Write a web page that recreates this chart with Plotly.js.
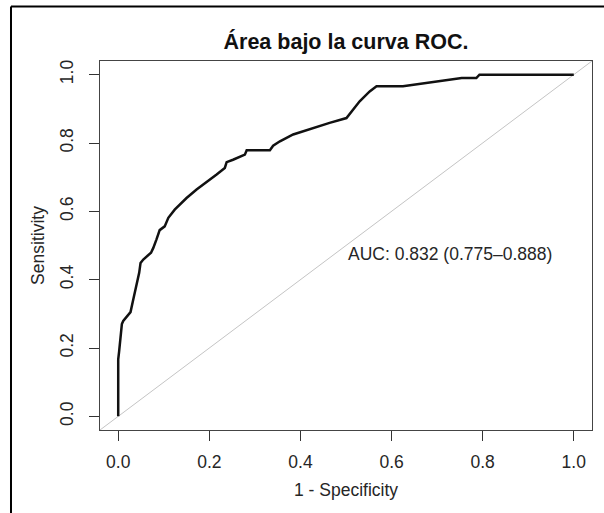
<!DOCTYPE html>
<html>
<head>
<meta charset="utf-8">
<script src="https://cdn.plot.ly/plotly-3.0.1.min.js"></script>
<style>
html,body{margin:0;padding:0;background:#fff;}
#chart{width:604px;height:513px;}
</style>
</head>
<body>
<div id="chart"></div>
<script>
// ROC curve: 1 - specificity (FPR) and sensitivity (TPR)
var fpr = [0, 0, 0.002, 0.004, 0.008, 0.011, 0.024, 0.027, 0.033, 0.040, 0.046, 0.049, 0.055, 0.072, 0.077, 0.084, 0.091, 0.102, 0.110, 0.124, 0.150, 0.172, 0.197, 0.216, 0.234, 0.238, 0.252, 0.278, 0.282, 0.333, 0.340, 0.355, 0.384, 0.428, 0.464, 0.501, 0.530, 0.552, 0.567, 0.625, 0.684, 0.737, 0.754, 0.786, 0.793, 1.0];
var tpr = [0, 0.167, 0.19, 0.215, 0.27, 0.279, 0.303, 0.305, 0.342, 0.381, 0.420, 0.449, 0.459, 0.479, 0.493, 0.518, 0.545, 0.556, 0.581, 0.605, 0.639, 0.664, 0.688, 0.708, 0.727, 0.744, 0.751, 0.766, 0.779, 0.779, 0.792, 0.805, 0.825, 0.844, 0.859, 0.873, 0.922, 0.951, 0.966, 0.966, 0.977, 0.985, 0.990, 0.990, 1.0, 1.0];
var refX = [-0.1, 1.1];
var refY = [-0.1, 1.1];
var tickVals = [0, 0.2, 0.4, 0.6, 0.8, 1.0];
var tickText = ["0.0", "0.2", "0.4", "0.6", "0.8", "1.0"];
var titleText = "Área bajo la curva ROC.";
var xTitle = "1 - Specificity";
var yTitle = "Sensitivity";
var aucText = "AUC: 0.832 (0.775–0.888)";
var aucPos = [0.5, 0.474];

var FONT = "Liberation Sans, Arial, Helvetica, sans-serif";

var traces = [
  {x: refX, y: refY, mode: "lines", line: {color: "#c4c4c4", width: 1}, hoverinfo: "skip", showlegend: false},
  {x: fpr, y: tpr, mode: "lines", line: {color: "#111111", width: 2.5}, showlegend: false}
];

var axisCommon = {
  range: [-0.04, 1.04],
  tickvals: tickVals,
  ticktext: tickText,
  ticks: "outside",
  ticklen: 10,
  tickwidth: 1,
  tickcolor: "#333",
  showgrid: false,
  zeroline: false,
  showline: true,
  mirror: true,
  linecolor: "#444",
  linewidth: 1,
  tickfont: {family: FONT, size: 17.5, color: "#262626"},
  fixedrange: true
};

var layout = {
  width: 604,
  height: 513,
  margin: {l: 100, r: 12, t: 61, b: 83, pad: 0},
  paper_bgcolor: "#fff",
  plot_bgcolor: "#fff",
  showlegend: false,
  title: {
    text: "<b>" + titleText + "</b>",
    font: {family: FONT, size: 21.5, color: "#111"},
    x: 0.5, xref: "paper", xanchor: "center",
    y: 1 - 41 / 513, yref: "container", yanchor: "middle"
  },
  xaxis: Object.assign({}, axisCommon, {
    ticklabelstandoff: 6,
    title: {text: xTitle, font: {family: FONT, size: 17.5, color: "#262626"}, standoff: 12}
  }),
  yaxis: Object.assign({}, axisCommon, {
    tickangle: -90,
    ticklabelstandoff: 9,
    title: {text: yTitle, font: {family: FONT, size: 17.5, color: "#262626"}, standoff: 7}
  }),
  annotations: [
    {x: aucPos[0], y: aucPos[1], xref: "x", yref: "y", text: aucText, showarrow: false,
     xanchor: "left", yanchor: "middle", font: {family: FONT, size: 17.5, color: "#262626"}}
  ],
  shapes: [
    {type: "line", xref: "paper", yref: "paper", x0: -0.1809, x1: -0.1809, y0: -0.3, y1: (430 - 6.5) / 369,
     line: {color: "#000", width: 2}},
    {type: "line", xref: "paper", yref: "paper", x0: -0.1809, x1: 1.1, y0: (430 - 6.5) / 369, y1: (430 - 6.5) / 369,
     line: {color: "#000", width: 2}}
  ]
};

Plotly.newPlot("chart", traces, layout, {displayModeBar: false, staticPlot: true});
</script>
</body>
</html>
